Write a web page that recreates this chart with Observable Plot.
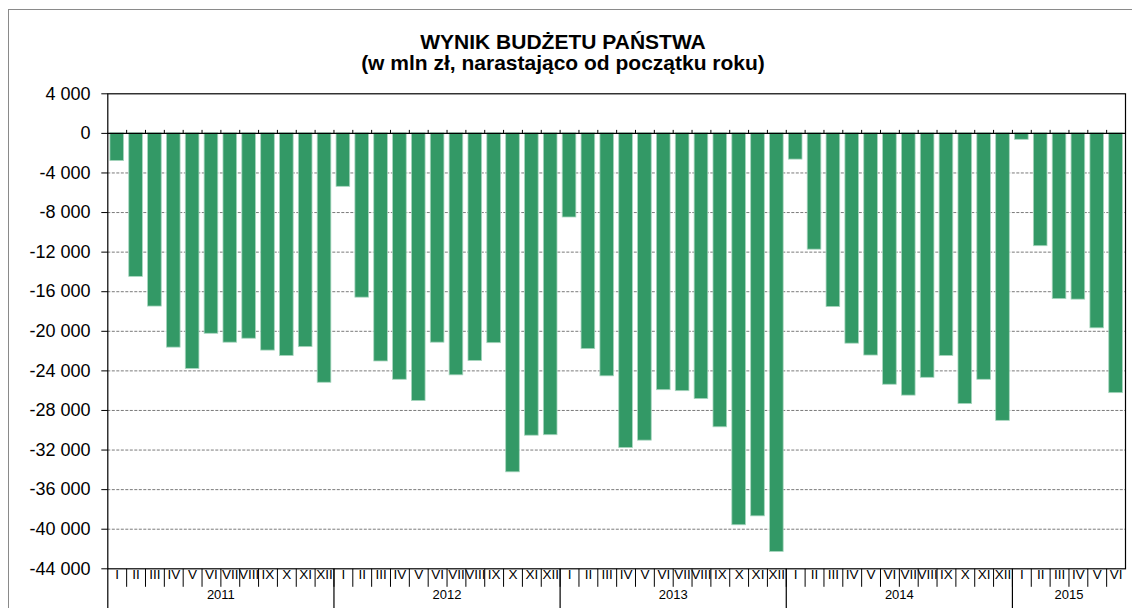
<!DOCTYPE html>
<html><head><meta charset="utf-8">
<script src="https://cdn.jsdelivr.net/npm/d3@7"></script>
<script src="https://cdn.jsdelivr.net/npm/@observablehq/plot@0.6"></script>
<style>
body{margin:0;background:#fff;font-family:"Liberation Sans",Arial,sans-serif;}
#wrap{position:relative;width:1132px;height:608px;overflow:hidden;background:#fff;}
#border{position:absolute;left:8px;top:9px;right:-10px;bottom:-10px;border:1.5px solid #8a8a8a;}
#title{position:absolute;left:0;width:1126px;top:31px;text-align:center;font-weight:bold;font-size:21px;line-height:21px;color:#000;}
#chart{position:absolute;left:0;top:80px;}
</style></head>
<body><div id="wrap"><div id="border"></div><div id="title">WYNIK BUDŻETU PAŃSTWA<br>(w mln zł, narastająco od początku roku)</div><div id="chart"></div></div>
<script>
const years = [2011, 2012, 2013, 2014, 2015];
const months = ["I","II","III","IV","V","VI","VII","VIII","IX","X","XI","XII"];
const v2011 = [-2800, -14500, -17500, -21650, -23800, -20250, -21150, -20750, -21950, -22500, -21600, -25200];
const v2012 = [-5400, -16600, -23050, -24900, -27050, -21150, -24450, -23000, -21200, -34250, -30550, -30500];
const v2013 = [-8500, -21800, -24550, -31800, -31050, -25950, -26050, -26850, -29700, -39600, -38700, -42300];
const v2014 = [-2650, -11750, -17550, -21250, -22450, -25400, -26500, -24700, -22500, -27350, -24900, -29050];
const v2015 = [-650, -11400, -16750, -16800, -19700, -26250];
const yTicks = [4000, 0, -4000, -8000, -12000, -16000, -20000, -24000, -28000, -32000, -36000, -40000, -44000];

const fmt = d3.formatLocale({decimal: ",", thousands: " ", grouping: [3], currency: ["", ""], minus: "-"}).format(",");

const series = [v2011, v2012, v2013, v2014, v2015];
const data = [];
const yearData = [];
series.forEach((arr, yi) => {
  const start = data.length;
  arr.forEach((v, mi) => data.push({i: data.length, year: years[yi], m: months[mi], value: v}));
  yearData.push({year: years[yi], start, end: data.length});
});
const n = data.length;
const bounds = d3.range(1, n);
const yearStarts = yearData.map(d => d.start);

const vseg = (len) => ({draw(ctx) { ctx.moveTo(0, 0); ctx.lineTo(0, len); }});
const hseg = (len) => ({draw(ctx) { ctx.moveTo(0, 0); ctx.lineTo(len, 0); }});

const chart = Plot.plot({
  width: 1132,
  height: 528,
  marginLeft: 107.3,
  marginRight: 7,
  marginTop: 13.3,
  marginBottom: 39.7,
  style: {fontFamily: "'Liberation Sans', Arial, sans-serif", fontSize: "13px", background: "transparent", overflow: "visible", color: "#000"},
  x: {type: "linear", domain: [0, n], axis: null},
  y: {domain: [-44000, 4000], axis: null},
  marks: [
    Plot.ruleY(yTicks.filter(t => t !== 0 && t !== yTicks[0] && t !== yTicks[yTicks.length - 1]), {stroke: "#7a7a7a", strokeWidth: 1, strokeDasharray: "3,1.5"}),
    Plot.rectY(data, {x1: d => d.i, x2: d => d.i + 1, y1: d => 0, y2: "value", insetLeft: 2.6, insetRight: 2.6, fill: "#339966", stroke: "#a8d6bf", strokeWidth: 0.8}),
    Plot.ruleY([0], {stroke: "#000", strokeWidth: 1.2}),
    Plot.dot(bounds, {x: d => d, y: d => 0, symbol: vseg(-3.5), stroke: "#000", fill: "none", strokeWidth: 1}),
    Plot.frame({stroke: "#000", strokeWidth: 1.2}),
    Plot.dot(yTicks, {y: d => d, frameAnchor: "left", symbol: hseg(-6.5), stroke: "#000", fill: "none", strokeWidth: 1}),
    Plot.text(yTicks, {y: d => d, text: d => fmt(d), frameAnchor: "left", textAnchor: "end", dx: -17.3, fontSize: 18, fill: "#000"}),
    Plot.dot(bounds, {x: d => d, frameAnchor: "bottom", symbol: vseg(18), stroke: "#000", fill: "none", strokeWidth: 1}),
    Plot.dot(yearStarts, {x: d => d, frameAnchor: "bottom", symbol: vseg(42), stroke: "#000", fill: "none", strokeWidth: 1.2}),
    Plot.text(data, {x: d => d.i + 0.5, text: "m", frameAnchor: "bottom", dy: 10, fontSize: 13.5, fill: "#000"}),
    Plot.text(yearData, {x: d => (d.start + d.end) / 2, text: d => String(d.year), frameAnchor: "bottom", dy: 30, fontSize: 13, fill: "#000"})
  ]
});
document.getElementById("chart").appendChild(chart);
</script>
</body></html>
